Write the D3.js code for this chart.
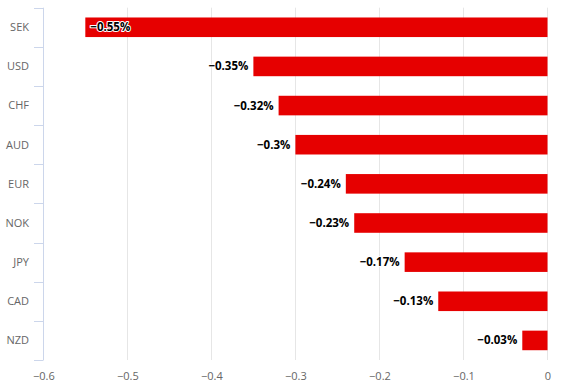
<!DOCTYPE html>
<html><head><meta charset="utf-8">
<script src="https://cdn.jsdelivr.net/npm/d3@7"></script>
<style>body{margin:0;background:#fff;font-family:"Open Sans",sans-serif;}</style>
</head><body><svg id="c" width="564" height="392"></svg>
<script>
const categories = ["SEK","USD","CHF","AUD","EUR","NOK","JPY","CAD","NZD"];
const values = [-0.55,-0.35,-0.32,-0.3,-0.24,-0.23,-0.17,-0.13,-0.03];
const xTicks = [-0.6,-0.5,-0.4,-0.3,-0.2,-0.1,0];

(function(){
const svg = d3.select("#c");
const pL = 43.3, pR = 547.5, pT = 7.7, pB = 360;
const x = d3.scaleLinear().domain([-0.6,0]).range([pL,pR]);
const y = d3.scaleBand().domain(categories).range([pT,pB]).paddingInner(0.5).paddingOuter(0.25);
const yb = d3.scaleBand().domain(categories).range([pT,pB]);
const fmt = v => (v<0?"\u2212":"") + Math.abs(v) + "%";

// grid
svg.append("g").selectAll("line").data(xTicks.slice(1)).join("line")
  .attr("x1",d=>Math.floor(x(d))+0.5).attr("x2",d=>Math.floor(x(d))+0.5)
  .attr("y1",pT).attr("y2",pB).attr("stroke","#e6e6e6");

// x axis labels
const xa = svg.append("g").attr("transform",`translate(0,${pB})`)
  .call(d3.axisBottom(x).tickValues(xTicks).tickSize(0).tickPadding(12).tickFormat(d=>d===0?"0":"\u2212"+Math.abs(d)));
xa.select(".domain").remove();
xa.selectAll("text").attr("fill","#666").style("font-size","11px").style("font-family","'Open Sans',sans-serif");

// y axis
const ya = svg.append("g").attr("transform",`translate(${Math.floor(pL)},0)`);
ya.append("line").attr("x1",0.5).attr("x2",0.5).attr("y1",pT).attr("y2",pB).attr("stroke","#ccd6eb");
const bounds = categories.map(c=>yb(c)).concat([pB]);
ya.selectAll("line.t").data(bounds).join("line").attr("class","t")
  .attr("x1",-9).attr("x2",0.5).attr("y1",d=>Math.round(d)+0.5).attr("y2",d=>Math.round(d)+0.5).attr("stroke","#ccd6eb");
ya.selectAll("text").data(categories).join("text")
  .attr("x",-14).attr("y",d=>yb(d)+yb.bandwidth()/2).attr("dy","0.35em")
  .attr("text-anchor","end").attr("fill","#666").style("font-size","11px").text(d=>d);

// bars
svg.append("g").selectAll("rect").data(values).join("rect")
  .attr("x",d=>x(d)).attr("width",d=>x(0)-x(d))
  .attr("y",(d,i)=>y(categories[i])).attr("height",y.bandwidth())
  .attr("fill","#e60000");

// labels
const lab = svg.append("g").selectAll("text").data(values).join("text")
  .attr("y",(d,i)=>y(categories[i])+y.bandwidth()/2).attr("dy","0.35em")
  .style("font-size","11.5px").style("font-weight","bold").attr("fill","#000")
  .attr("stroke","#fff").attr("stroke-width",2).attr("paint-order","stroke").attr("stroke-linejoin","round")
  .text(d=>fmt(d));
lab.each(function(d){
  const t = d3.select(this);
  const w = this.getComputedTextLength();
  if (x(d) - 5 - w < pL) t.attr("x",x(d)+5).attr("text-anchor","start");
  else t.attr("x",x(d)-5).attr("text-anchor","end");
});
})();
</script></body></html>
